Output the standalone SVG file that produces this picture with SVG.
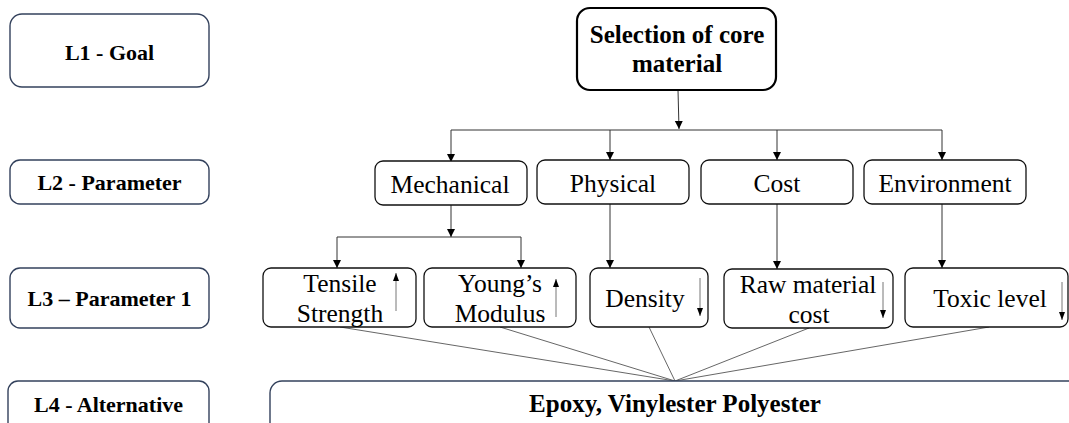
<svg xmlns="http://www.w3.org/2000/svg" width="1069" height="423" viewBox="0 0 1069 423">
  <defs>
    <marker id="head" markerUnits="userSpaceOnUse" markerWidth="8" markerHeight="10" refX="8" refY="4" orient="auto">
      <path d="M0,0 L8,4 L0,8 Z" fill="#000"/>
    </marker>
    <marker id="tick" markerUnits="userSpaceOnUse" markerWidth="8" markerHeight="8" refX="8" refY="3" orient="auto">
      <path d="M0,0 L8,3 L0,6 Z" fill="#000"/>
    </marker>
    <style>
      text { font-family: 'Liberation Serif', Tinos, 'Nimbus Roman', 'DejaVu Serif', serif; }
      .lvl { fill: #fff; stroke: #33415c; stroke-width: 1.4; }
      .lvlt { font-weight: bold; font-size: 22px; fill: #000; text-anchor: middle; }
      .box { fill: #fff; stroke: #111; stroke-width: 1.3; }
      .goal { fill: #fff; stroke: #000; stroke-width: 2.2; }
      .t { font-size: 25.5px; fill: #000; text-anchor: middle; }
      .tb { font-size: 25px; font-weight: bold; fill: #000; text-anchor: middle; }
      .c { fill: none; stroke: #333; stroke-width: 1; }
      .a { fill: none; stroke: #333; stroke-width: 1; marker-end: url(#head); }
      .ind { fill: none; stroke: #777; stroke-width: 1; marker-end: url(#tick); }
      .fan { fill: none; stroke: #555; stroke-width: 0.9; }
    </style>
  </defs>

  <!-- level labels on the left -->
  <g id="level-1">
    <rect class="lvl" x="10" y="14" width="199" height="73" rx="12"/>
    <text class="lvlt" x="109.5" y="60">L1 - Goal</text>
  </g>
  <g id="level-2">
    <rect class="lvl" x="10" y="160" width="199" height="44" rx="10"/>
    <text class="lvlt" x="109.5" y="190">L2 - Parameter</text>
  </g>
  <g id="level-3">
    <rect class="lvl" x="10" y="268" width="199" height="60" rx="10"/>
    <text class="lvlt" x="109.5" y="306">L3 – Parameter 1</text>
  </g>
  <g id="level-4">
    <rect class="lvl" x="8" y="381" width="201" height="60" rx="10"/>
    <text class="lvlt" x="108.5" y="412">L4 - Alternative</text>
  </g>

  <!-- connectors -->
  <g id="connectors">
    <line class="a" x1="678" y1="90" x2="679" y2="129"/>
    <line class="c" x1="451" y1="130" x2="942" y2="130"/>
    <line class="a" x1="451" y1="130" x2="451" y2="162"/>
    <line class="a" x1="610" y1="130" x2="610" y2="160"/>
    <line class="a" x1="777" y1="130" x2="777" y2="160"/>
    <line class="a" x1="942" y1="130" x2="942" y2="160"/>

    <line class="a" x1="451" y1="205" x2="451" y2="237"/>
    <line class="c" x1="337" y1="237" x2="521" y2="237"/>
    <line class="a" x1="337" y1="237" x2="337" y2="268"/>
    <line class="a" x1="521" y1="237" x2="521" y2="268"/>

    <line class="a" x1="610" y1="204" x2="610" y2="268"/>
    <line class="a" x1="777" y1="204" x2="777" y2="269"/>
    <line class="a" x1="942" y1="204" x2="942" y2="268"/>

    <line class="fan" x1="340" y1="327" x2="675" y2="381"/>
    <line class="fan" x1="500" y1="327" x2="675" y2="381"/>
    <line class="fan" x1="649" y1="327" x2="675" y2="381"/>
    <line class="fan" x1="809" y1="328" x2="675" y2="381"/>
    <line class="fan" x1="989" y1="327" x2="675" y2="381"/>
  </g>

  <!-- goal -->
  <g id="goal">
    <rect class="goal" x="577" y="8" width="199" height="82" rx="13"/>
    <text class="tb" x="677" y="43">Selection of core</text>
    <text class="tb" x="677" y="72">material</text>
  </g>

  <!-- parameters -->
  <g id="mechanical">
    <rect class="box" x="375" y="161" width="152" height="44" rx="8"/>
    <text class="t" x="450" y="193">Mechanical</text>
  </g>
  <g id="physical">
    <rect class="box" x="537" y="160" width="152" height="44" rx="8"/>
    <text class="t" x="613" y="192">Physical</text>
  </g>
  <g id="cost">
    <rect class="box" x="701" y="160" width="152" height="44" rx="8"/>
    <text class="t" x="777" y="192">Cost</text>
  </g>
  <g id="environment">
    <rect class="box" x="864" y="160" width="162" height="44" rx="8"/>
    <text class="t" x="945" y="192">Environment</text>
  </g>

  <!-- criteria -->
  <g id="tensile-strength">
    <rect class="box" x="263" y="268" width="153" height="59" rx="8"/>
    <text class="t" x="340" y="292">Tensile</text>
    <text class="t" x="340" y="322">Strength</text>
    <line class="ind" x1="396" y1="311" x2="396" y2="273"/>
  </g>
  <g id="youngs-modulus">
    <rect class="box" x="424" y="268" width="152" height="59" rx="8"/>
    <text class="t" x="500" y="292">Young’s</text>
    <text class="t" x="500" y="322">Modulus</text>
    <line class="ind" x1="556" y1="317" x2="556" y2="279"/>
  </g>
  <g id="density">
    <rect class="box" x="590" y="268" width="118" height="59" rx="8"/>
    <text class="t" x="645" y="307">Density</text>
    <line class="ind" x1="700" y1="278" x2="700" y2="316"/>
  </g>
  <g id="raw-material-cost">
    <rect class="box" x="724" y="269" width="169" height="59" rx="8"/>
    <text class="t" x="808" y="293">Raw material</text>
    <text class="t" x="809" y="323">cost</text>
    <line class="ind" x1="883" y1="282" x2="883" y2="318"/>
  </g>
  <g id="toxic-level">
    <rect class="box" x="905" y="268" width="163" height="59" rx="8"/>
    <text class="t" x="990" y="307">Toxic level</text>
    <line class="ind" x1="1062" y1="282" x2="1062" y2="320"/>
  </g>

  <!-- alternatives -->
  <g id="alternatives">
    <rect class="lvl" x="270" y="381" width="820" height="60" rx="12"/>
    <text class="tb" x="675" y="412">Epoxy, Vinylester Polyester</text>
  </g>
</svg>
